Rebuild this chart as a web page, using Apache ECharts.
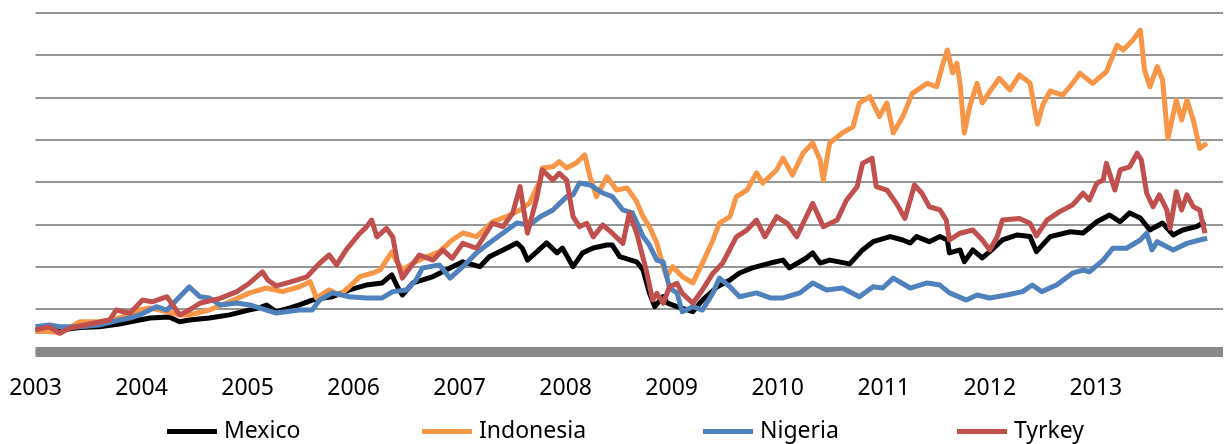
<!DOCTYPE html>
<html>
<head>
<meta charset="utf-8">
<script src="https://cdn.jsdelivr.net/npm/echarts@6/dist/echarts.min.js"></script>
<style>
  html, body { margin: 0; padding: 0; background: #fff; }
  #chart { width: 1227px; height: 444px; }
</style>
</head>
<body>
<div id="chart"></div>
<script>
(function() {
  var seriesNames = ['Mexico', 'Indonesia', 'Nigeria', 'Tyrkey'];
  var seriesColors = ['#000000', '#F79646', '#4F81BD', '#C0504D'];
  var yearTicks = [2003, 2004, 2005, 2006, 2007, 2008, 2009, 2010, 2011, 2012, 2013];

  // index values, [year, value]
  var mexico = [[2003.00,101],[2003.23,101],[2003.42,112],[2003.60,116],[2003.79,129],[2003.98,148],[2004.08,157],[2004.26,162],[2004.36,140],[2004.45,148],[2004.64,157],[2004.83,172],[2004.99,192],[2005.11,205],[2005.18,219],[2005.27,187],[2005.40,205],[2005.49,219],[2005.61,242],[2005.71,252],[2005.80,258],[2005.96,290],[2006.12,313],[2006.27,323],[2006.36,361],[2006.42,299],[2006.46,266],[2006.56,323],[2006.75,353],[2006.91,394],[2007.03,423],[2007.19,400],[2007.28,447],[2007.41,479],[2007.54,512],[2007.59,488],[2007.64,431],[2007.73,471],[2007.82,512],[2007.92,465],[2007.97,488],[2008.07,400],[2008.16,465],[2008.26,488],[2008.39,502],[2008.44,502],[2008.51,447],[2008.67,423],[2008.73,384],[2008.79,276],[2008.84,211],[2008.92,258],[2008.96,228],[2009.05,211],[2009.20,187],[2009.29,242],[2009.43,305],[2009.55,337],[2009.64,370],[2009.76,394],[2009.93,417],[2010.05,431],[2010.11,394],[2010.27,441],[2010.33,465],[2010.40,417],[2010.49,431],[2010.68,413],[2010.80,479],[2010.90,518],[2011.06,542],[2011.18,526],[2011.25,512],[2011.31,542],[2011.43,518],[2011.53,542],[2011.60,526],[2011.62,465],[2011.72,479],[2011.76,423],[2011.84,479],[2011.93,441],[2012.00,471],[2012.12,526],[2012.26,550],[2012.38,542],[2012.44,471],[2012.57,542],[2012.76,565],[2012.88,559],[2013.01,612],[2013.13,644],[2013.23,612],[2013.32,654],[2013.42,630],[2013.51,573],[2013.63,606],[2013.73,550],[2013.82,573],[2013.95,589],[2014.03,612]];

  var indonesia = [[2003.00,93],[2003.13,93],[2003.23,87],[2003.42,140],[2003.60,140],[2003.79,157],[2003.98,195],[2004.08,205],[2004.24,187],[2004.36,172],[2004.45,172],[2004.64,195],[2004.83,234],[2005.02,276],[2005.18,299],[2005.33,282],[2005.49,305],[2005.59,329],[2005.65,252],[2005.77,290],[2005.87,266],[2005.96,305],[2006.06,353],[2006.18,370],[2006.25,384],[2006.31,431],[2006.36,469],[2006.41,422],[2006.46,384],[2006.56,417],[2006.69,447],[2006.81,471],[2006.93,526],[2007.03,559],[2007.16,542],[2007.31,612],[2007.44,636],[2007.57,668],[2007.66,701],[2007.76,809],[2007.78,866],[2007.88,872],[2007.94,896],[2008.01,866],[2008.10,890],[2008.18,928],[2008.23,825],[2008.29,731],[2008.39,825],[2008.48,762],[2008.58,772],[2008.67,707],[2008.73,636],[2008.79,589],[2008.86,512],[2008.92,400],[2008.95,353],[2009.01,400],[2009.10,353],[2009.20,323],[2009.29,417],[2009.39,526],[2009.45,606],[2009.55,636],[2009.61,731],[2009.71,762],[2009.80,843],[2009.86,795],[2009.99,857],[2010.05,913],[2010.14,833],[2010.24,937],[2010.33,984],[2010.40,904],[2010.43,809],[2010.49,984],[2010.61,1032],[2010.71,1061],[2010.77,1173],[2010.87,1203],[2010.96,1109],[2011.03,1173],[2011.09,1032],[2011.18,1109],[2011.27,1219],[2011.41,1266],[2011.50,1250],[2011.56,1361],[2011.60,1424],[2011.65,1315],[2011.69,1361],[2011.72,1266],[2011.76,1032],[2011.81,1156],[2011.88,1266],[2011.93,1174],[2012.00,1227],[2012.09,1290],[2012.19,1235],[2012.28,1306],[2012.38,1268],[2012.45,1074],[2012.50,1164],[2012.57,1230],[2012.69,1211],[2012.78,1266],[2012.85,1314],[2012.97,1266],[2013.10,1321],[2013.20,1447],[2013.26,1424],[2013.35,1471],[2013.42,1518],[2013.46,1329],[2013.51,1250],[2013.58,1345],[2013.63,1282],[2013.68,1006],[2013.76,1187],[2013.81,1093],[2013.86,1187],[2013.92,1093],[2013.98,959],[2014.05,983]];

  var nigeria = [[2003.00,116],[2003.13,124],[2003.23,116],[2003.42,116],[2003.60,124],[2003.79,148],[2003.89,157],[2003.98,172],[2004.14,211],[2004.24,195],[2004.36,258],[2004.45,304],[2004.55,258],[2004.64,252],[2004.74,219],[2004.90,228],[2005.02,219],[2005.18,195],[2005.27,181],[2005.49,195],[2005.61,195],[2005.68,242],[2005.80,276],[2005.96,258],[2006.12,252],[2006.27,252],[2006.37,282],[2006.50,290],[2006.59,337],[2006.65,394],[2006.72,400],[2006.81,408],[2006.91,346],[2007.03,400],[2007.16,465],[2007.28,512],[2007.41,559],[2007.54,606],[2007.66,597],[2007.76,636],[2007.88,668],[2008.01,731],[2008.07,739],[2008.13,795],[2008.23,786],[2008.35,748],[2008.44,731],[2008.54,668],[2008.63,654],[2008.73,542],[2008.79,502],[2008.86,431],[2008.92,422],[2008.98,299],[2009.05,276],[2009.10,187],[2009.20,211],[2009.29,195],[2009.39,276],[2009.45,346],[2009.55,305],[2009.64,258],[2009.80,276],[2009.93,252],[2010.05,252],[2010.21,276],[2010.33,323],[2010.46,290],[2010.61,299],[2010.77,258],[2010.90,305],[2010.99,299],[2011.09,346],[2011.25,299],[2011.41,323],[2011.53,313],[2011.62,276],[2011.78,242],[2011.88,266],[2012.00,252],[2012.16,266],[2012.31,282],[2012.40,313],[2012.49,282],[2012.63,313],[2012.78,369],[2012.88,384],[2012.94,376],[2013.07,431],[2013.16,487],[2013.29,487],[2013.42,526],[2013.48,558],[2013.53,479],[2013.58,518],[2013.73,479],[2013.86,510],[2013.98,526],[2014.05,534]];

  var tyrkey = [[2003.00,101],[2003.13,116],[2003.23,85],[2003.32,109],[2003.51,129],[2003.70,148],[2003.76,195],[2003.89,180],[2004.01,242],[2004.10,234],[2004.24,258],[2004.36,172],[2004.45,195],[2004.55,227],[2004.74,250],[2004.90,282],[2005.02,323],[2005.14,375],[2005.19,337],[2005.27,309],[2005.40,327],[2005.56,352],[2005.68,416],[2005.77,455],[2005.84,408],[2005.93,479],[2006.06,558],[2006.12,587],[2006.17,620],[2006.22,541],[2006.31,581],[2006.37,540],[2006.41,431],[2006.46,346],[2006.53,394],[2006.62,455],[2006.75,431],[2006.84,479],[2006.93,439],[2007.03,510],[2007.16,487],[2007.31,605],[2007.41,589],[2007.50,652],[2007.57,778],[2007.64,558],[2007.73,730],[2007.78,857],[2007.88,809],[2007.94,841],[2008.01,809],[2008.07,636],[2008.13,589],[2008.20,605],[2008.26,541],[2008.35,597],[2008.44,558],[2008.54,510],[2008.60,652],[2008.67,558],[2008.76,384],[2008.82,242],[2008.86,274],[2008.92,227],[2008.98,305],[2009.05,321],[2009.10,274],[2009.20,227],[2009.29,290],[2009.39,369],[2009.48,416],[2009.61,541],[2009.71,573],[2009.80,620],[2009.88,541],[2009.99,636],[2010.09,605],[2010.18,541],[2010.24,605],[2010.33,699],[2010.43,589],[2010.56,620],[2010.65,715],[2010.75,778],[2010.80,888],[2010.89,912],[2010.93,778],[2011.03,762],[2011.12,699],[2011.20,628],[2011.29,786],[2011.36,747],[2011.43,683],[2011.53,668],[2011.59,620],[2011.62,526],[2011.72,558],[2011.84,573],[2011.93,526],[2012.00,479],[2012.07,541],[2012.12,620],[2012.28,628],[2012.38,605],[2012.44,545],[2012.54,620],[2012.66,660],[2012.78,691],[2012.88,747],[2012.94,715],[2013.01,794],[2013.07,809],[2013.10,888],[2013.18,762],[2013.23,857],[2013.32,872],[2013.39,936],[2013.43,904],[2013.48,747],[2013.54,683],[2013.60,739],[2013.67,668],[2013.70,581],[2013.76,754],[2013.81,668],[2013.86,739],[2013.92,683],[2013.98,668],[2014.03,558]];

  var seriesData = [mexico, indonesia, nigeria, tyrkey];
  var legendLeft = [167, 422, 703, 957];
  var font = '"Noto Sans", "Liberation Sans", sans-serif';

  var chart = echarts.init(document.getElementById('chart'), null, { renderer: 'canvas' });

  chart.setOption({
    animation: false,
    grid: { left: 35.5, right: 4, top: 12.7, bottom: 92.7, containLabel: false },
    legend: seriesNames.map(function(name, i) {
      return {
        data: [name], left: legendLeft[i], top: 420, padding: 0,
        icon: 'rect', itemWidth: 50, itemHeight: 5,
        textStyle: { fontFamily: font, fontSize: 23, color: '#000', padding: [0, 0, 0, 2] }
      };
    }),
    xAxis: {
      type: 'value', min: 2003, max: 2014.2, interval: 1, offset: 4,
      axisLine: { show: true, lineStyle: { color: '#898989', width: 10, cap: 'butt' } },
      axisTick: { show: false },
      splitLine: { show: false },
      axisLabel: {
        color: '#000', fontFamily: font, fontSize: 23, margin: 22,
        showMaxLabel: false,
        formatter: function(v) { return yearTicks.indexOf(v) >= 0 ? String(v) : ''; }
      }
    },
    yAxis: {
      type: 'value', min: 0, max: 1600, interval: 200,
      axisLine: { show: false }, axisTick: { show: false },
      axisLabel: { show: false },
      splitLine: { lineStyle: { color: '#969696', width: 2 } }
    },
    series: seriesNames.map(function(name, i) {
      return {
        name: name, type: 'line', data: seriesData[i],
        symbol: 'none', showSymbol: false,
        color: seriesColors[i],
        lineStyle: { color: seriesColors[i], width: 5, join: 'round' }
      };
    })
  });
})();
</script>
</body>
</html>
